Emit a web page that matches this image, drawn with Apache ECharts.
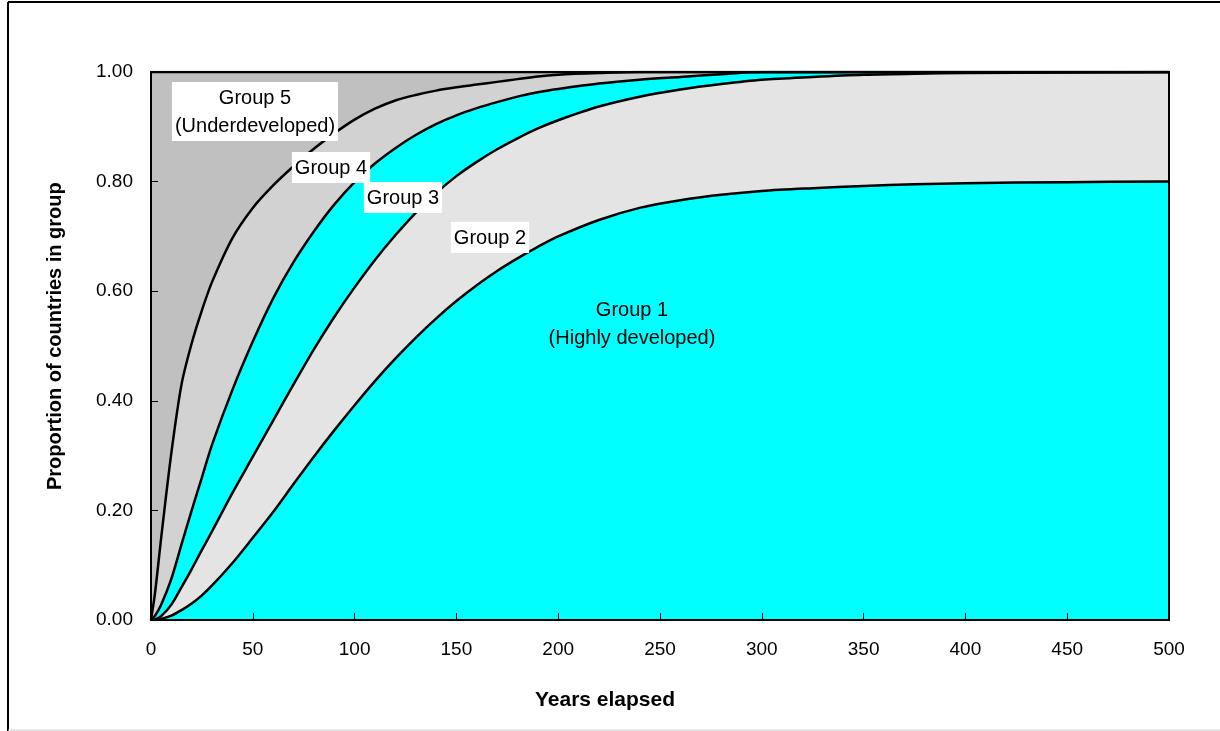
<!DOCTYPE html>
<html>
<head>
<meta charset="utf-8">
<script src="https://cdn.jsdelivr.net/npm/echarts@6/dist/echarts.min.js"></script>
<style>
  html, body { margin: 0; padding: 0; background: #fff; }
  #chart { width: 1220px; height: 731px; }
</style>
</head>
<body>
<div id="chart"></div>
<script>
const years = [0, 2, 5, 10, 15, 20, 25, 30, 40, 50, 60, 70, 80, 90, 100, 110, 120, 130, 140, 150,
  160, 170, 180, 190, 200, 220, 240, 260, 280, 300, 325, 350, 375, 400, 450, 500]

// cumulative proportion of countries in groups 1..k (the boundary curves)
const upToGroup1 = [0, 0, 0.002, 0.008, 0.018, 0.03, 0.045, 0.063, 0.104, 0.15, 0.197, 0.248, 0.298, 0.346, 0.392,
  0.436, 0.477, 0.515, 0.55, 0.582, 0.611, 0.637, 0.66, 0.681, 0.7, 0.73, 0.752, 0.766, 0.776, 0.783,
  0.788, 0.792, 0.795, 0.797, 0.799, 0.8]
const upToGroup2 = [0, 0.001, 0.007, 0.028, 0.06, 0.093, 0.128, 0.162, 0.232, 0.298, 0.364, 0.43, 0.494, 0.553, 0.607,
  0.657, 0.702, 0.743, 0.779, 0.81, 0.836, 0.859, 0.879, 0.897, 0.912, 0.937, 0.955, 0.968, 0.978, 0.986,
  0.991, 0.995, 0.997, 0.998, 0.999, 1]
const upToGroup3 = [0, 0.008, 0.028, 0.075, 0.138, 0.2, 0.26, 0.32, 0.42, 0.508, 0.587, 0.653, 0.709, 0.758, 0.799,
  0.833, 0.861, 0.885, 0.905, 0.921, 0.934, 0.945, 0.955, 0.963, 0.969, 0.979, 0.986, 0.991, 0.996, 1,
  1, 1, 1, 1, 1, 1]
const upToGroup4 = [0, 0.05, 0.15, 0.305, 0.43, 0.505, 0.565, 0.617, 0.697, 0.752, 0.793, 0.828, 0.86, 0.888, 0.913,
  0.933, 0.948, 0.958, 0.966, 0.972, 0.977, 0.982, 0.987, 0.992, 0.995, 0.998, 1, 1, 1, 1,
  1, 1, 1, 1, 1, 1]
const upToGroup5 = years.map(() => 1)

const yTicks = [0, 0.2, 0.4, 0.6, 0.8, 1]

const fontFamily = '"Liberation Sans", Arial, sans-serif'

function boundary(name, values, fill) {
  return {
    name,
    type: 'line',
    data: years.map((x, i) => [x, values[i]]),
    showSymbol: false,
    smooth: 0.3,
    lineStyle: { color: '#000', width: 2.5 },
    areaStyle: { color: fill, opacity: 1, origin: 'start' },
    silent: true,
  }
}

function label(text, x, y, bg) {
  return {
    type: 'text',
    x,
    y,
    z: 100,
    style: {
      text,
      fill: '#000',
      font: '20px ' + fontFamily,
      align: 'center',
      verticalAlign: 'top',
      lineHeight: 28,
      backgroundColor: bg,
      padding: bg ? [2, 3, 1, 3] : 0,
    },
  }
}

const chart = echarts.init(document.getElementById('chart'))

chart.setOption({
  animation: false,
  grid: {
    left: 151,
    right: 51,
    top: 72,
    bottom: 111,
    show: true,
    backgroundColor: 'transparent',
    borderColor: '#000',
    borderWidth: 2,
    z: 10,
  },
  xAxis: {
    type: 'value',
    min: 0,
    max: 500,
    interval: 50,
    z: 10,
    axisLine: { lineStyle: { color: '#000', width: 2 } },
    axisTick: { inside: true, length: 7, lineStyle: { color: '#000', width: 1 } },
    axisLabel: { fontFamily, fontSize: 19, color: '#000', margin: 20 },
    splitLine: { show: false },
  },
  yAxis: {
    type: 'value',
    min: yTicks[0],
    max: yTicks[yTicks.length - 1],
    interval: 0.2,
    z: 10,
    axisLine: { lineStyle: { color: '#000', width: 2 } },
    axisTick: { inside: true, length: 7, lineStyle: { color: '#000', width: 1 } },
    axisLabel: { fontFamily, fontSize: 19, color: '#000', margin: 18, formatter: (v) => v.toFixed(2) },
    splitLine: { show: false },
  },
  series: [
    boundary('Group 5', upToGroup5, '#c0c0c0'),
    boundary('Group 4', upToGroup4, '#d2d2d2'),
    boundary('Group 3', upToGroup3, '#00ffff'),
    boundary('Group 2', upToGroup2, '#e4e4e4'),
    boundary('Group 1', upToGroup1, '#00ffff'),
  ],
  graphic: [
    // outer frame
    { type: 'line', shape: { x1: 8, y1: 2, x2: 8, y2: 731 }, style: { stroke: '#000', lineWidth: 2 } },
    { type: 'line', shape: { x1: 8, y1: 2, x2: 1220, y2: 2 }, style: { stroke: '#000', lineWidth: 2 } },
    { type: 'line', shape: { x1: 8, y1: 730, x2: 1220, y2: 730 }, style: { stroke: '#d0d0d0', lineWidth: 1 } },
    // axis titles
    {
      type: 'text',
      x: 55,
      y: 490,
      rotation: Math.PI / 2,
      style: {
        text: 'Proportion of countries in group',
        fill: '#000',
        font: 'bold 20px ' + fontFamily,
        align: 'left',
        verticalAlign: 'middle',
      },
    },
    {
      type: 'text',
      x: 605,
      y: 700,
      style: {
        text: 'Years elapsed',
        fill: '#000',
        font: 'bold 21px ' + fontFamily,
        align: 'center',
        verticalAlign: 'middle',
      },
    },
    label('Group 5\n(Underdeveloped)', 255, 82, '#fff'),
    label('Group 4', 331, 152, '#fff'),
    label('Group 3', 403, 182, '#fff'),
    label('Group 2', 490, 222, '#fff'),
    label('Group 1\n(Highly developed)', 632, 296, null),
  ],
})
</script>
</body>
</html>
